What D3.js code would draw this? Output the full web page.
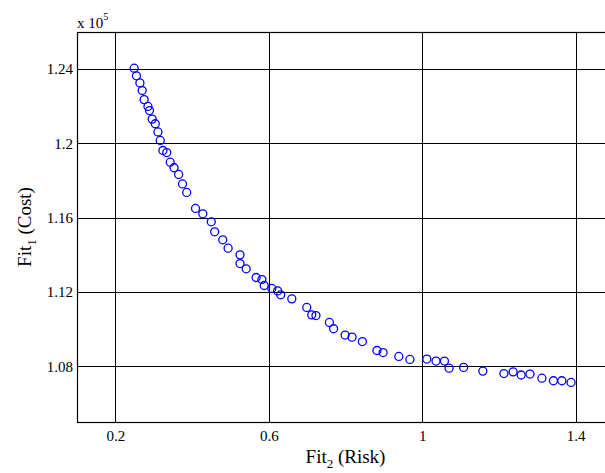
<!DOCTYPE html>
<html><head><meta charset="utf-8">
<script src="https://cdn.jsdelivr.net/npm/d3@7"></script>
<style>body{margin:0;background:#fff;} svg{display:block;}</style>
</head><body>
<script>
const risk = [0.249,0.255,0.264,0.270,0.275,0.285,0.289,0.296,0.304,0.311,0.317,0.324,0.334,0.343,0.353,0.365,0.375,0.386,0.409,0.428,0.450,0.459,0.480,0.494,0.525,0.525,0.541,0.567,0.582,0.588,0.608,0.623,0.631,0.660,0.699,0.712,0.723,0.758,0.769,0.799,0.817,0.844,0.882,0.898,0.939,0.968,1.012,1.036,1.058,1.070,1.108,1.158,1.213,1.237,1.258,1.281,1.312,1.342,1.364,1.388];
const cost = [1.2405,1.2364,1.2326,1.2285,1.2236,1.2199,1.2177,1.2131,1.2106,1.2062,1.2016,1.1962,1.1951,1.1899,1.1869,1.1833,1.1782,1.1736,1.1650,1.1621,1.1578,1.1524,1.1481,1.1436,1.1400,1.1353,1.1325,1.1278,1.1267,1.1235,1.1219,1.1206,1.1185,1.1163,1.1117,1.1077,1.1073,1.1036,1.1002,1.0968,1.0957,1.0933,1.0885,1.0874,1.0853,1.0837,1.0839,1.0828,1.0828,1.0790,1.0794,1.0774,1.0761,1.0770,1.0753,1.0758,1.0736,1.0722,1.0722,1.0713];
const xTicks = [0.2,0.6,1,1.4];
const yTicks = [1.08,1.12,1.16,1.2,1.24];
const xTickLabels = ["0.2","0.6","1","1.4"];
const yTickLabels = ["1.08","1.12","1.16","1.2","1.24"];

const W=605,H=473;
const L=77,T=32,R=614,B=422;
const font='"Liberation Serif", serif';
const svg=d3.select("body").append("svg").attr("width",W).attr("height",H);
const x=d3.scaleLinear().domain([0.1,1.5]).range([L,R]);
const y=d3.scaleLinear().domain([1.05,1.26]).range([B,T]);

// grid
svg.append("g").selectAll("line").data(xTicks).join("line")
  .attr("x1",d=>Math.round(x(d))+0.5).attr("x2",d=>Math.round(x(d))+0.5)
  .attr("y1",T).attr("y2",B).attr("stroke","#000").attr("stroke-width",1);
svg.append("g").selectAll("line").data(yTicks).join("line")
  .attr("y1",d=>Math.round(y(d))+0.5).attr("y2",d=>Math.round(y(d))+0.5)
  .attr("x1",L).attr("x2",R).attr("stroke","#000").attr("stroke-width",1);

// frame
svg.append("rect").attr("x",L+0.5).attr("y",T+0.5).attr("width",R-L).attr("height",B-T)
  .attr("fill","none").attr("stroke","#000").attr("stroke-width",1.2);

// axes labels via d3 axis
const xAxis=svg.append("g").attr("transform",`translate(0,${B})`)
  .call(d3.axisBottom(x).tickValues(xTicks).tickFormat((d,i)=>xTickLabels[i]).tickSize(0).tickPadding(8));
xAxis.select(".domain").remove();
xAxis.selectAll("text").attr("font-family",font).attr("font-size",15).attr("fill","#000");
const yAxis=svg.append("g").attr("transform",`translate(${L},0)`)
  .call(d3.axisLeft(y).tickValues(yTicks).tickFormat((d,i)=>yTickLabels[i]).tickSize(0).tickPadding(4));
yAxis.select(".domain").remove();
yAxis.selectAll("text").attr("font-family",font).attr("font-size",15).attr("fill","#000");

// multiplier
const m=svg.append("text").attr("x",L).attr("y",28).attr("font-family",font).attr("font-size",15);
m.append("tspan").text("x 10");
m.append("tspan").attr("dy",-8).attr("font-size",10).text("5");

// x title
const xt=svg.append("text").attr("x",(L+R)/2).attr("y",463).attr("text-anchor","middle")
  .attr("font-family",font).attr("font-size",19);
xt.append("tspan").text("Fit");
xt.append("tspan").attr("dy",5).attr("font-size",13).text("2");
xt.append("tspan").attr("dy",-5).text(" (Risk)");

// y title
const yt=svg.append("text").attr("transform",`translate(31,${(T+B)/2}) rotate(-90)`).attr("text-anchor","middle")
  .attr("font-family",font).attr("font-size",19);
yt.append("tspan").text("Fit");
yt.append("tspan").attr("dy",5).attr("font-size",13).text("1");
yt.append("tspan").attr("dy",-5).text(" (Cost)");

// points
svg.append("g").selectAll("circle").data(risk.map((r,i)=>[r,cost[i]])).join("circle")
  .attr("cx",d=>x(d[0])).attr("cy",d=>y(d[1])).attr("r",4)
  .attr("fill","none").attr("stroke","#0000ff").attr("stroke-width",1.3);
</script>
</body></html>
